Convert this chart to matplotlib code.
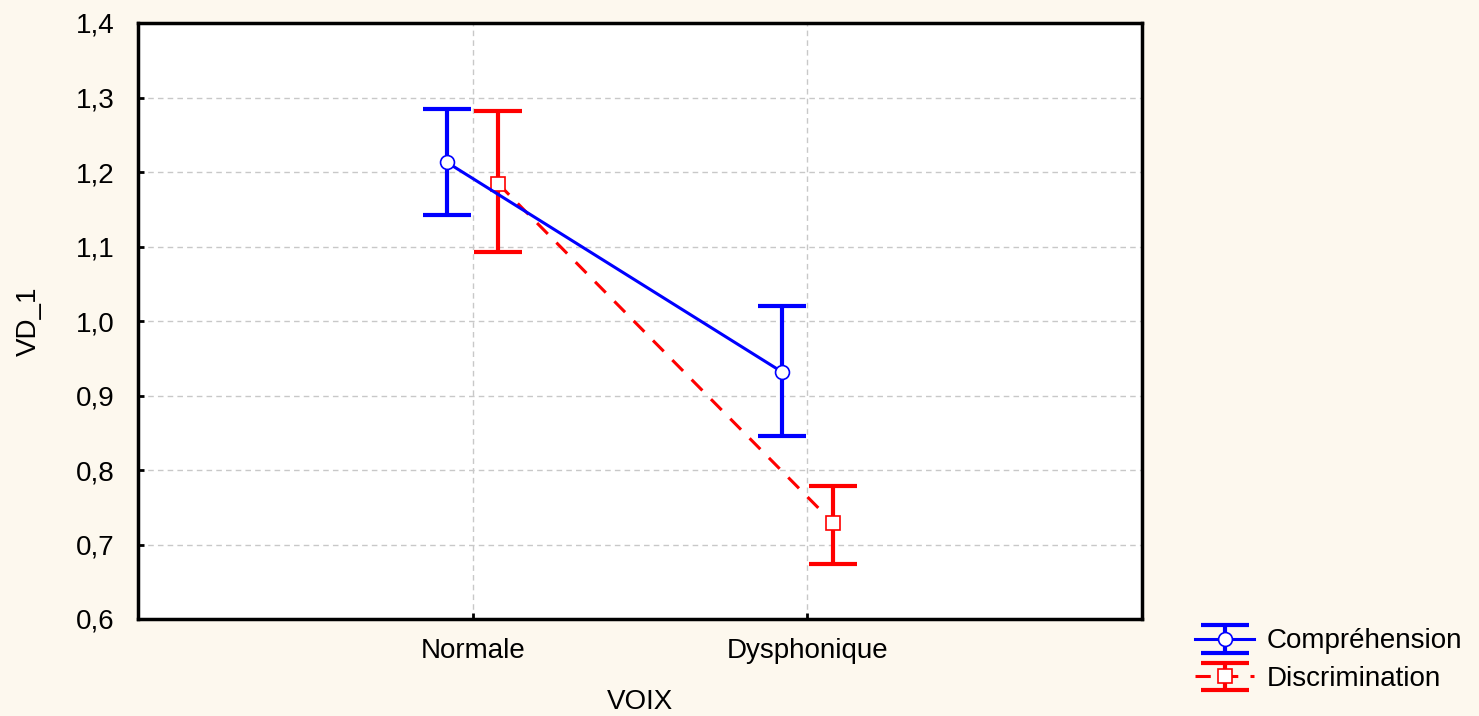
import matplotlib.pyplot as plt
import numpy as np

plt.rcParams['font.family'] = ['Liberation Sans', 'DejaVu Sans']

# Données
categories = ['Normale', 'Dysphonique']
comp_moy = [1.213, 0.932]
comp_bas = [1.142, 0.846]
comp_haut = [1.285, 1.020]
disc_moy = [1.184, 0.729]
disc_bas = [1.093, 0.674]
disc_haut = [1.282, 0.779]

fond = '#fdf8ee'
pos = np.array([1, 2])
decal = 0.077

fig = plt.figure(figsize=(14.79, 7.16), dpi=100, facecolor=fond)
ax = fig.add_axes([138 / 1479, 1 - 619 / 716, (1142 - 138) / 1479, (619 - 23) / 716])
ax.set_facecolor('white')

err_c = [np.array(comp_moy) - np.array(comp_bas), np.array(comp_haut) - np.array(comp_moy)]
err_d = [np.array(disc_moy) - np.array(disc_bas), np.array(disc_haut) - np.array(disc_moy)]

eb_d = ax.errorbar(pos + decal, disc_moy, yerr=err_d, color='#ff0000', lw=2.2, dashes=(5, 4),
                   marker='s', ms=10, mfc='white', mec='#ff0000',
                   elinewidth=3, capsize=17, capthick=3, label='Discrimination', zorder=3)
eb_c = ax.errorbar(pos - decal, comp_moy, yerr=err_c, color='#0000ff', lw=2.2,
                   marker='o', ms=10, mfc='white', mec='#0000ff',
                   elinewidth=3, capsize=17, capthick=3, label='Compréhension', zorder=4)
eb_d.lines[0].set_markeredgewidth(1.2)
eb_c.lines[0].set_markeredgewidth(1.2)

ax.set_xlim(0, 3)
ax.set_ylim(0.6, 1.4)
ax.set_xticks(pos)
ax.set_xticklabels(categories)
yt = np.arange(0.6, 1.41, 0.1)
ax.set_yticks(yt)
ax.set_yticklabels([f'{v:.1f}'.replace('.', ',') for v in yt])
ax.tick_params(direction='in', length=4, width=2, labelsize=20, colors='black')
ax.tick_params(axis='y', pad=17)
ax.tick_params(axis='x', pad=14)
ax.grid(True, color='#c8c8c8', linestyle=(0, (4, 3)), lw=1)
ax.set_axisbelow(True)
for s in ax.spines.values():
    s.set_linewidth(2.5)
    s.set_color('black')

ax.set_xlabel('VOIX', fontsize=20, labelpad=18)
ax.set_ylabel('VD_1', fontsize=20, labelpad=24)

h, l = ax.get_legend_handles_labels()
fig.legend(h[::-1], l[::-1], loc='upper left', bbox_to_anchor=(1176 / 1479, 1 - 609 / 716),
           frameon=False, fontsize=20, handlelength=2.1, labelspacing=0.42, handletextpad=0.45,
           borderpad=0.2)

fig.savefig('out.png', dpi=100, facecolor=fond)
